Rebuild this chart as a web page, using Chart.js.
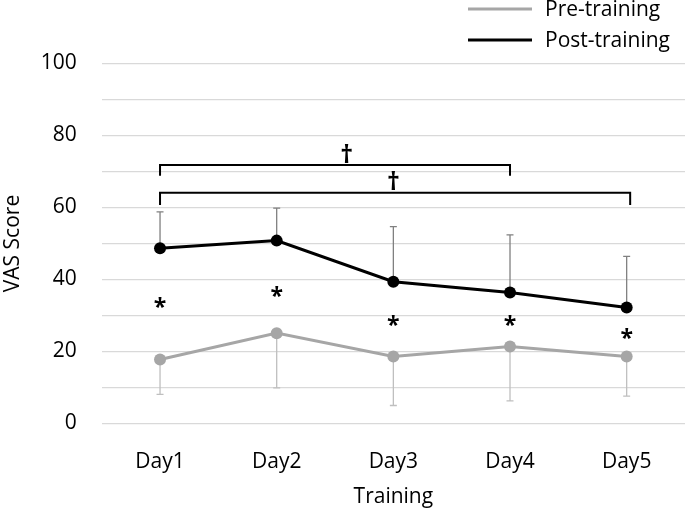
<!DOCTYPE html>
<html>
<head>
<meta charset="utf-8">
<script src="https://cdn.jsdelivr.net/npm/chart.js@4"></script>
<style>
html,body{margin:0;padding:0;background:#fff;}
#wrap{width:685px;height:512px;}
</style>
</head>
<body>
<div id="wrap"><canvas id="c" width="685" height="512"></canvas></div>
<script>
const categories = ['Day1', 'Day2', 'Day3', 'Day4', 'Day5'];
const preMean = [17.8, 25.1, 18.6, 21.4, 18.6];
const preSD = [9.7, 15.2, 13.6, 15.1, 11.0];
const postMean = [48.7, 50.8, 39.4, 36.4, 32.2];
const postSD = [10.1, 9.0, 15.3, 16.0, 14.2];
const starValues = [33.6, 36.6, 28.7, 28.5, 24.9];
const yTicks = [0, 20, 40, 60, 80, 100];
// brackets: [fromIndex, toIndex, level, tickBottom, daggerIndex]
const brackets = [
  [0, 3, 71.8, 68.8, 1.6],
  [0, 4.03, 64.1, 60.7, 2.0]
];

const FONT = '"Open Sans", "Noto Sans", sans-serif';

const overlay = {
  id: 'overlay',
  beforeDatasetsDraw(chart) {
    const ctx = chart.ctx;
    const xs = chart.scales.x, ys = chart.scales.y;
    ctx.save();
    ctx.lineWidth = 1.3;
    ctx.strokeStyle = '#808080';
    postMean.forEach((m, i) => {
      const x = xs.getPixelForValue(i);
      const y0 = ys.getPixelForValue(m), y1 = ys.getPixelForValue(m + postSD[i]);
      ctx.beginPath();
      ctx.moveTo(x, y0); ctx.lineTo(x, y1);
      ctx.moveTo(x - 3.5, y1); ctx.lineTo(x + 3.5, y1);
      ctx.stroke();
    });
    ctx.strokeStyle = '#bfbfbf';
    preMean.forEach((m, i) => {
      const x = xs.getPixelForValue(i);
      const y0 = ys.getPixelForValue(m), y1 = ys.getPixelForValue(m - preSD[i]);
      ctx.beginPath();
      ctx.moveTo(x, y0); ctx.lineTo(x, y1);
      ctx.moveTo(x - 3.5, y1); ctx.lineTo(x + 3.5, y1);
      ctx.stroke();
    });
    ctx.restore();
  },
  afterDraw(chart) {
    const ctx = chart.ctx;
    const xs = chart.scales.x, ys = chart.scales.y;
    ctx.save();
    ctx.fillStyle = '#000';
    ctx.font = 'bold 23px ' + FONT;
    ctx.textAlign = 'center';
    ctx.textBaseline = 'alphabetic';
    starValues.forEach((v, i) => {
      const x = xs.getPixelForValue(i);
      const y = ys.getPixelForValue(v);
      const m = ctx.measureText('*');
      const off = (m.actualBoundingBoxAscent - m.actualBoundingBoxDescent) / 2;
      ctx.fillText('*', x, y + off);
    });
    ctx.strokeStyle = '#000';
    ctx.lineWidth = 2;
    ctx.font = 'bold 25px ' + FONT;
    brackets.forEach(b => {
      const xa = xs.getPixelForValue(b[0]), xb = xs.getPixelForValue(b[1]);
      const yl = ys.getPixelForValue(b[2]), yt = ys.getPixelForValue(b[3]);
      ctx.beginPath();
      ctx.moveTo(xa, yt); ctx.lineTo(xa, yl); ctx.lineTo(xb, yl); ctx.lineTo(xb, yt);
      ctx.stroke();
      const dx = xs.getPixelForValue(b[4]);
      const m = ctx.measureText('\u2020');
      ctx.fillText('\u2020', dx, yl - 2.5 - m.actualBoundingBoxDescent);
    });
    ctx.font = '21px ' + FONT;
    ctx.textAlign = 'left';
    ctx.textBaseline = 'middle';
    const items = chart.data.datasets.map(d => ({label: d.label, color: d.borderColor}));
    const rows = [9, 40];
    items.forEach((it, k) => {
      const y = rows[k];
      ctx.strokeStyle = it.color;
      ctx.lineWidth = 3;
      ctx.beginPath();
      ctx.moveTo(468, y); ctx.lineTo(532, y);
      ctx.stroke();
      ctx.fillStyle = '#000';
      ctx.fillText(it.label, 545, y + 1);
    });
    ctx.restore();
  }
};

new Chart(document.getElementById('c'), {
  type: 'line',
  data: {
    labels: categories,
    datasets: [
      {
        label: 'Pre-training',
        data: preMean,
        borderColor: '#a6a6a6',
        backgroundColor: '#a6a6a6',
        borderWidth: 3,
        pointRadius: 6,
        pointHoverRadius: 6,
        pointBorderWidth: 0,
        tension: 0
      },
      {
        label: 'Post-training',
        data: postMean,
        borderColor: '#000000',
        backgroundColor: '#000000',
        borderWidth: 3,
        pointRadius: 6,
        pointHoverRadius: 6,
        pointBorderWidth: 0,
        tension: 0
      }
    ]
  },
  options: {
    responsive: false,
    animation: false,
    devicePixelRatio: 1,
    layout: { autoPadding: false, padding: { top: 63.5, left: 0, right: 0, bottom: 0 } },
    plugins: { legend: { display: false }, tooltip: { enabled: false } },
    scales: {
      x: {
        offset: true,
        grid: { display: false, drawTicks: false },
        border: { display: false },
        ticks: { color: '#000', font: { family: FONT, size: 21 }, padding: 26, maxRotation: 0 },
        title: { display: true, text: 'Training', color: '#000', font: { family: FONT, size: 21 }, padding: 2.4 },
        afterFit(s) { s.height = 88.5; s.paddingLeft = 0; s.paddingRight = 0; }
      },
      y: {
        min: 0,
        max: 100,
        grid: { color: '#d9d9d9', lineWidth: 1.3, drawTicks: false },
        border: { display: false },
        ticks: {
          stepSize: 10,
          color: '#000',
          font: { family: FONT, size: 21 },
          padding: 25,
          callback: v => yTicks.includes(v) ? String(v) : ''
        },
        title: { display: true, text: 'VAS Score', color: '#000', font: { family: FONT, size: 21 }, padding: 0 },
        afterFit(s) { s.width = 101.7; }
      }
    }
  },
  plugins: [overlay]
});
</script>
</body>
</html>
